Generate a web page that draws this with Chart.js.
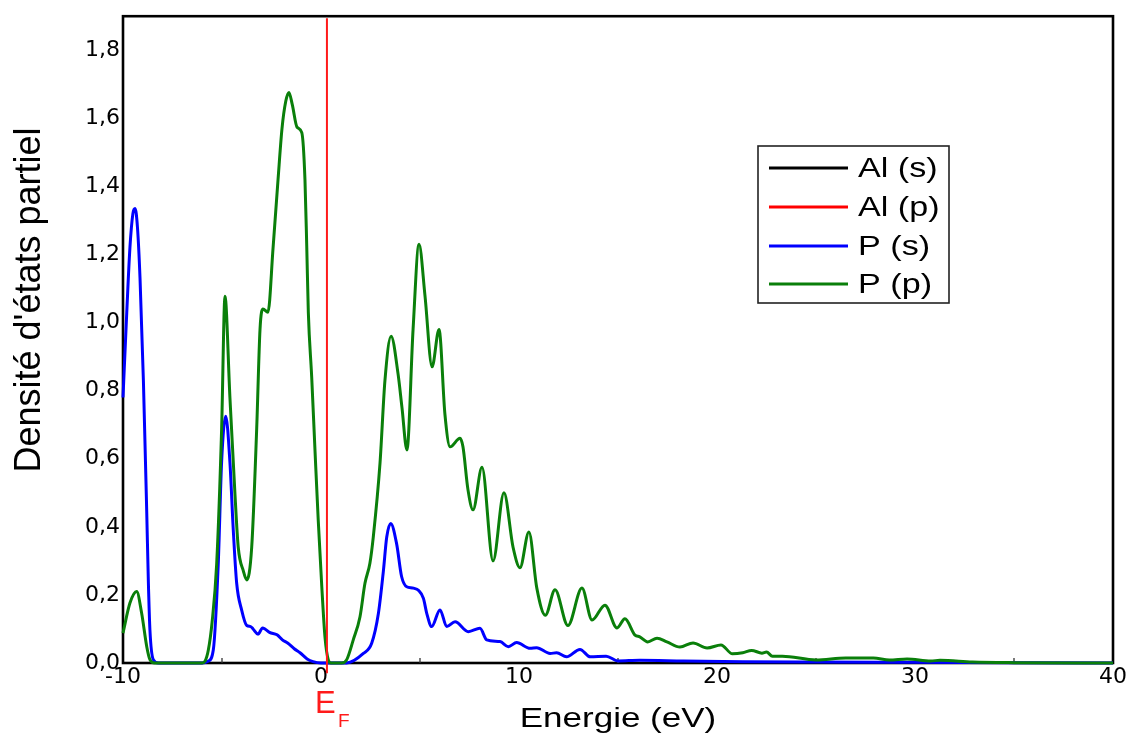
<!DOCTYPE html>
<html>
<head>
<meta charset="utf-8">
<script src="https://cdn.jsdelivr.net/npm/chart.js@4/dist/chart.umd.min.js"></script>
<style>
  html, body { margin: 0; padding: 0; background: #ffffff; }
  #wrap { width: 1133px; height: 735px; position: relative; }
</style>
</head>
<body>
<div id="wrap"><canvas id="c" width="1133" height="735"></canvas></div>
<script>
// ---------- data ----------
const seriesLabels = ["Al (s)", "Al (p)", "P (s)", "P (p)"];
const seriesColors = ["#000000", "#ff0000", "#0000ff", "#0a7f0a"];

const pSEnergy = [-10, -9.81, -9.65, -9.5, -9.39, -9.27, -9.14, -8.97, -8.80, -8.72, -8.64, -8.47, -8.2,
  -6.0, -5.7, -5.44, -5.19, -5.02, -4.81, -4.6, -4.43, -4.26, -4.01, -3.75, -3.55, -3.43, -3.18, -2.95,
  -2.83, -2.6, -2.22, -1.95, -1.67, -1.35, -1.06, -0.7, -0.4, 0, 0.5, 1.3, 2.14, 2.56, 2.9, 3.15, 3.32,
  3.52, 3.82, 4.07, 4.33, 4.67, 5.17, 5.34, 5.59, 6.01, 6.35, 6.77, 7.44, 8.03, 8.37, 9.04, 9.46, 9.88,
  10.56, 10.89, 11.57, 11.9, 12.4, 13.08, 13.6, 14.4, 15.0, 16.1, 18.3, 21.3, 25, 30, 35, 40];
const pSValues = [0.78, 1.03, 1.22, 1.32, 1.335, 1.28, 1.13, 0.83, 0.44, 0.24, 0.097, 0.01, 0,
  0, 0.005, 0.038, 0.29, 0.59, 0.725, 0.59, 0.39, 0.235, 0.156, 0.11, 0.107, 0.1, 0.085, 0.103,
  0.1, 0.09, 0.083, 0.068, 0.058, 0.042, 0.03, 0.012, 0.004, 0, 0, 0, 0.028, 0.058, 0.146, 0.27, 0.37,
  0.41, 0.35, 0.254, 0.224, 0.22, 0.19, 0.146, 0.107, 0.156, 0.107, 0.121, 0.092, 0.102, 0.068, 0.063, 0.048, 0.06,
  0.043, 0.045, 0.028, 0.03, 0.018, 0.04, 0.018, 0.02, 0.006, 0.008, 0.006, 0.004, 0.003, 0.002, 0.001, 0];

const pPEnergy = [-10, -9.65, -9.31, -9.06, -8.80, -8.64, -8.4, -6.0, -5.86, -5.69, -5.5, -5.27, -5.02,
  -4.85, -4.6, -4.34, -4.18, -3.92, -3.75, -3.5, -3.25, -3.08, -2.93, -2.68, -2.42, -2.17, -1.97, -1.78,
  -1.62, -1.45, -1.21, -0.97, -0.81, -0.72, -0.64, -0.47, -0.3, -0.14, 0.04, 0.2, 0.37, 0.5, 1.05, 1.3,
  1.63, 1.97, 2.22, 2.47, 2.64, 2.98, 3.23, 3.54, 3.89, 4.09, 4.34, 4.65, 4.95, 5.25, 5.61, 5.96, 6.26,
  6.52, 7.02, 7.17, 7.42, 7.68, 8.13, 8.69, 9.24, 9.7, 10.05, 10.5, 10.9, 11.33, 11.82, 12.47, 13.18,
  13.69, 14.34, 14.95, 15.35, 15.86, 16.1, 16.5, 16.97, 17.47, 18.13, 18.79, 19.5, 20.2, 20.78, 21.3,
  21.75, 22.27, 22.5, 22.8, 23.3, 25.0, 26.5, 27.9, 28.7, 29.6, 30.8, 31.26, 32.9, 35, 40];
const pPValues = [0.088, 0.176, 0.21, 0.147, 0.048, 0.01, 0, 0, 0.005, 0.038, 0.12, 0.29, 0.685,
  1.077, 0.78, 0.49, 0.34, 0.27, 0.244, 0.34, 0.685, 0.98, 1.04, 1.03, 1.22, 1.42, 1.57, 1.65,
  1.676, 1.64, 1.574, 1.558, 1.42, 1.224, 1.03, 0.84, 0.62, 0.42, 0.224, 0.077, 0.009, 0, 0, 0.01,
  0.068, 0.136, 0.234, 0.293, 0.37, 0.587, 0.83, 0.96, 0.85, 0.75, 0.626, 0.98, 1.23, 1.08, 0.87, 0.98, 0.73,
  0.635, 0.66, 0.635, 0.51, 0.45, 0.575, 0.30, 0.50, 0.34, 0.28, 0.385, 0.22, 0.14, 0.215, 0.11, 0.22,
  0.126, 0.17, 0.103, 0.13, 0.082, 0.077, 0.062, 0.073, 0.062, 0.047, 0.059, 0.044, 0.053, 0.027, 0.03,
  0.037, 0.029, 0.032, 0.02, 0.02, 0.009, 0.015, 0.015, 0.009, 0.012, 0.006, 0.008, 0.003, 0.001, 0];

const fermiEnergy = 0.3;
const fermiLineY = [-0.03, 1.894];

const xTickValues = [-10, 0, 10, 20, 30, 40];
const xMinorTicks = [-5, 5, 15, 25, 35];
const yTickValues = [0, 0.2, 0.4, 0.6, 0.8, 1.0, 1.2, 1.4, 1.6, 1.8];

const xTitle = "Energie (eV)";
const yTitle = "Densité d'états partiel";

// ---------- build ----------
const toPts = (xs, ys) => xs.map((x, i) => ({ x: x, y: ys[i] }));

const lineBase = {
  showLine: true, pointRadius: 0, borderWidth: 3, fill: false,
  cubicInterpolationMode: 'monotone', clip: false
};

const datasets = [
  Object.assign({}, lineBase, { label: "E_F", data: toPts([fermiEnergy, fermiEnergy], fermiLineY),
    borderColor: "#ff1a1a", borderWidth: 2, order: -1, cubicInterpolationMode: 'default', tension: 0 }),
  Object.assign({}, lineBase, { label: seriesLabels[3], data: toPts(pPEnergy, pPValues), borderColor: seriesColors[3], order: 0 }),
  Object.assign({}, lineBase, { label: seriesLabels[2], data: toPts(pSEnergy, pSValues), borderColor: seriesColors[2], order: 1 }),
  Object.assign({}, lineBase, { label: seriesLabels[1], data: [], borderColor: seriesColors[1], order: 2 }),
  Object.assign({}, lineBase, { label: seriesLabels[0], data: [], borderColor: seriesColors[0], order: 3 })
];

const decor = {
  id: 'decor',
  beforeDatasetsDraw(chart) {
    const ctx = chart.ctx, a = chart.chartArea, xs = chart.scales.x;
    ctx.save();
    ctx.strokeStyle = '#000';
    ctx.lineWidth = 2.6;
    ctx.strokeRect(a.left, a.top, a.right - a.left, a.bottom - a.top);
    ctx.lineWidth = 1.3;
    ctx.strokeStyle = '#333';
    xMinorTicks.forEach(v => {
      const px = xs.getPixelForValue(v);
      ctx.beginPath(); ctx.moveTo(px, a.bottom); ctx.lineTo(px, a.bottom - 5); ctx.stroke();
    });
    ctx.restore();
  },
  afterDraw(chart) {
    const ctx = chart.ctx, a = chart.chartArea;
    ctx.save();
    ctx.fillStyle = '#000';
    // y title
    ctx.save();
    ctx.translate(40, 300);
    ctx.rotate(-Math.PI / 2);
    ctx.font = '36px "Liberation Sans", Arial, sans-serif';
    ctx.textAlign = 'center'; ctx.textBaseline = 'alphabetic';
    ctx.fillText(yTitle, 0, 0);
    ctx.restore();
    // x title
    ctx.save();
    ctx.translate((a.left + a.right) / 2, 727);
    ctx.scale(1.25, 1);
    ctx.font = '28px "Liberation Sans", Arial, sans-serif';
    ctx.textAlign = 'center'; ctx.textBaseline = 'alphabetic';
    ctx.fillText(xTitle, 0, 0);
    ctx.restore();
    // E_F label
    const fx = chart.scales.x.getPixelForValue(fermiEnergy);
    ctx.fillStyle = '#ff1a1a';
    ctx.textAlign = 'left'; ctx.textBaseline = 'alphabetic';
    ctx.font = '31px "Liberation Sans", Arial, sans-serif';
    ctx.fillText('E', fx - 12, 713);
    ctx.font = '19px "Liberation Sans", Arial, sans-serif';
    ctx.fillText('F', fx + 11, 727);
    // legend
    const bx = 758, by = 146, bw = 191, bh = 157;
    ctx.fillStyle = '#fff';
    ctx.fillRect(bx, by, bw, bh);
    ctx.strokeStyle = '#222'; ctx.lineWidth = 1.6;
    ctx.strokeRect(bx, by, bw, bh);
    const rows = [168, 207, 246, 284];
    seriesLabels.forEach((lab, i) => {
      ctx.strokeStyle = seriesColors[i]; ctx.lineWidth = 3;
      ctx.beginPath(); ctx.moveTo(769, rows[i]); ctx.lineTo(848, rows[i]); ctx.stroke();
      ctx.save();
      ctx.translate(858, rows[i] + 1);
      ctx.scale(1.22, 1);
      ctx.fillStyle = '#000';
      ctx.font = '28px "Liberation Sans", Arial, sans-serif';
      ctx.textAlign = 'left'; ctx.textBaseline = 'middle';
      ctx.fillText(lab, 0, 0);
      ctx.restore();
    });
    ctx.restore();
  }
};

new Chart(document.getElementById('c'), {
  type: 'scatter',
  data: { datasets: datasets },
  options: {
    responsive: false,
    animation: false,
    devicePixelRatio: 1,
    layout: { padding: { top: 15, right: 20, left: 0, bottom: 0 } },
    plugins: { legend: { display: false }, tooltip: { enabled: false }, title: { display: false } },
    scales: {
      x: {
        type: 'linear', min: -10, max: 40,
        afterBuildTicks: s => { s.ticks = xTickValues.map(v => ({ value: v })); },
        afterFit: s => { s.height = 72; },
        grid: { display: false, drawTicks: false },
        border: { display: false },
        ticks: { color: '#000', padding: 1, maxRotation: 0, autoSkip: false,
          font: { family: '"DejaVu Sans", sans-serif', size: 22 },
          callback: v => String(v) }
      },
      y: {
        type: 'linear', min: 0, max: 1.9,
        afterBuildTicks: s => { s.ticks = yTickValues.map(v => ({ value: v })); },
        afterFit: s => { s.width = 123; },
        grid: { display: false, drawTicks: false },
        border: { display: false },
        ticks: { color: '#000', padding: 3, autoSkip: false,
          font: { family: '"DejaVu Sans", sans-serif', size: 22 },
          callback: v => Number(v).toFixed(1).replace('.', ',') }
      }
    }
  },
  plugins: [decor]
});
</script>
</body>
</html>
